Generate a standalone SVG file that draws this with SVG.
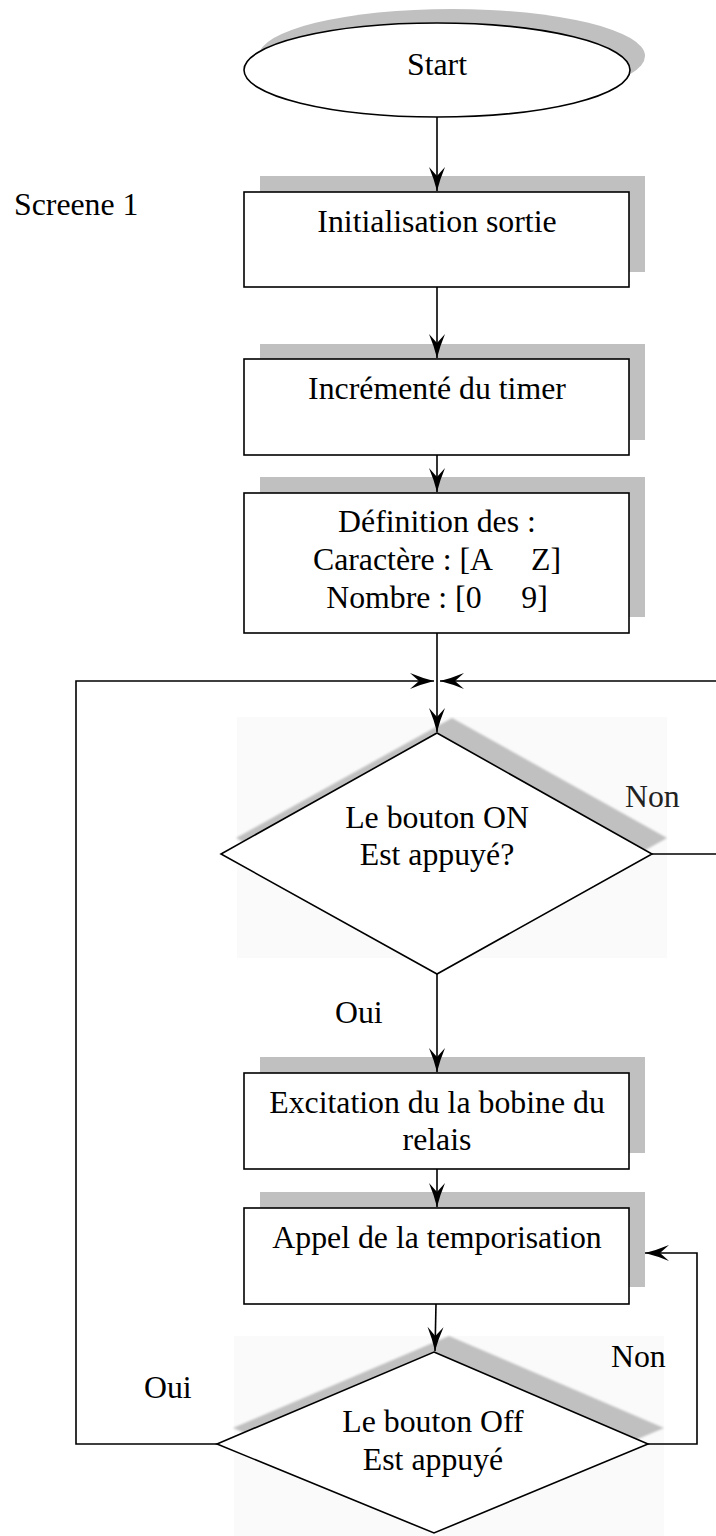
<svg xmlns="http://www.w3.org/2000/svg" width="716" height="1536" viewBox="0 0 716 1536">
<style>
text{font-family:"Liberation Serif","Times New Roman",serif;font-size:31.8px;fill:#000;text-anchor:middle}
.lbl{text-anchor:start}
.node{fill:#fff;stroke:#000;stroke-width:1.6}
.shadow{fill:#c0c0c0;stroke:none}
.bg{fill:#fafafa;stroke:none}
.conn{fill:none;stroke:#000;stroke-width:1.6}
</style>
<defs>
<marker id="arr" markerUnits="userSpaceOnUse" markerWidth="30" markerHeight="20" refX="0" refY="0" viewBox="-26 -10 28 20" orient="auto" overflow="visible">
<path d="M0,0 Q-12,-3 -24,-8 L-15,0 L-24,8 Q-12,3 0,0 Z" fill="#000"/>
</marker>
<filter id="blur" x="-10%" y="-10%" width="120%" height="120%"><feGaussianBlur stdDeviation="1.2"/></filter>
</defs>
<rect width="716" height="1536" fill="#fff"/>

<text class="lbl" x="14" y="215">Screene 1</text>

<g id="start">
<ellipse class="shadow" cx="452" cy="56" rx="193" ry="47"/>
<ellipse class="node" cx="437" cy="70" rx="193" ry="47"/>
<text x="437" y="75">Start</text>
</g>

<g id="init">
<rect class="shadow" x="260" y="176" width="385" height="96"/>
<rect class="node" x="244" y="192" width="385" height="95"/>
<text x="437" y="232">Initialisation sortie</text>
</g>

<g id="timer">
<rect class="shadow" x="260" y="344" width="385" height="96"/>
<rect class="node" x="244" y="359" width="385" height="96"/>
<text x="437" y="399">Incrémenté du timer</text>
</g>

<g id="def">
<rect class="shadow" x="260" y="477" width="385" height="140"/>
<rect class="node" x="244" y="493" width="385" height="140"/>
<text x="437" y="532">Définition des :</text>
<text x="437" y="570" xml:space="preserve">Caractère : [A     Z]</text>
<text x="437" y="608" xml:space="preserve">Nombre : [0     9]</text>
</g>

<g id="on">
<rect class="bg" x="237" y="717" width="430" height="241"/>
<polygon class="shadow" filter="url(#blur)" points="452,718 667,838 452,958 236,838"/>
<polygon class="node" points="437,733 652,854 437,974 221,854"/>
<text x="437" y="828">Le bouton ON</text>
<text x="437" y="865">Est appuyé?</text>
</g>

<g id="excit">
<rect class="shadow" x="260" y="1057" width="385" height="96"/>
<rect class="node" x="244" y="1073" width="385" height="96"/>
<text x="437" y="1113">Excitation du la bobine du</text>
<text x="437" y="1150">relais</text>
</g>

<g id="tempo">
<rect class="shadow" x="260" y="1192" width="385" height="95"/>
<rect class="node" x="244" y="1208" width="385" height="96"/>
<text x="437" y="1248">Appel de la temporisation</text>
</g>

<g id="off">
<rect class="bg" x="234" y="1336" width="430" height="200"/>
<polygon class="shadow" filter="url(#blur)" points="449,1336 664,1428 449,1518 233,1428"/>
<polygon class="node" points="434,1352 648,1444 434,1533 217,1444"/>
<text x="433" y="1432">Le bouton Off</text>
<text x="433" y="1470">Est appuyé</text>
</g>

<g id="connectors">
<line class="conn" x1="437" y1="117" x2="437" y2="191" marker-end="url(#arr)"/>
<line class="conn" x1="437" y1="287" x2="437" y2="358" marker-end="url(#arr)"/>
<line class="conn" x1="437" y1="455" x2="437" y2="492" marker-end="url(#arr)"/>
<line class="conn" x1="437" y1="633" x2="437" y2="732" marker-end="url(#arr)"/>
<line class="conn" x1="437" y1="974" x2="437" y2="1072" marker-end="url(#arr)"/>
<line class="conn" x1="437" y1="1169" x2="437" y2="1207" marker-end="url(#arr)"/>
<line class="conn" x1="436" y1="1304" x2="435" y2="1351" marker-end="url(#arr)"/>
<polyline class="conn" points="652,854 720,854 720,681 440,681" marker-end="url(#arr)"/>
<polyline class="conn" points="217,1444 76,1444 76,681 434,681" marker-end="url(#arr)"/>
<polyline class="conn" points="648,1444 697,1444 697,1253 645,1253" marker-end="url(#arr)"/>
<text class="lbl" x="625" y="807" style="fill:#222">Non</text>
<text class="lbl" x="335" y="1023">Oui</text>
<text class="lbl" x="611" y="1367">Non</text>
<text class="lbl" x="144" y="1398">Oui</text>
</g>
</svg>
